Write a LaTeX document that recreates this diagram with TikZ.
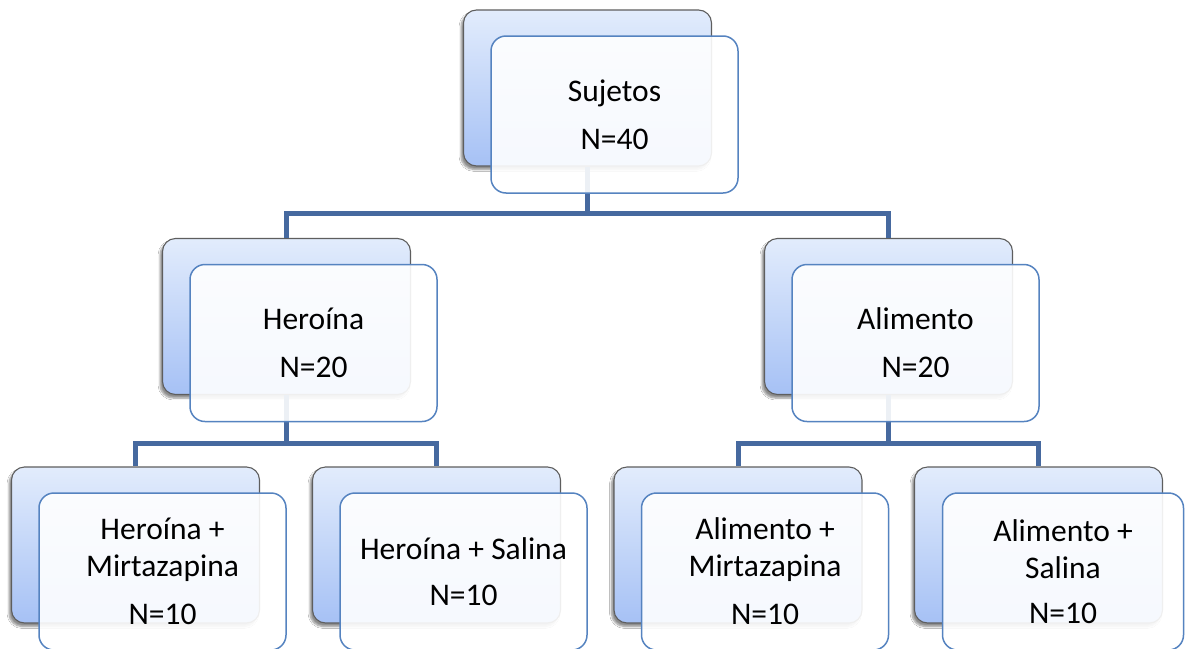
\documentclass[tikz,border=0pt]{standalone}
\usepackage{fontspec}
\setmainfont{Carlito}
\usetikzlibrary{shadows.blur}
\definecolor{backtop}{HTML}{E2ECFC}
\definecolor{backbot}{HTML}{A6C1F5}
\definecolor{backline}{HTML}{5E5E5E}
\definecolor{frontline}{HTML}{5583C0}
\definecolor{conn}{HTML}{46699F}
\tikzset{
  backbox/.style={rectangle, rounded corners=13pt, draw=backline, line width=1.1pt,
    top color=backtop, bottom color=backbot, minimum width=248pt, minimum height=156pt,
    inner sep=0pt,
    blur shadow={shadow xshift=-2.5pt, shadow yshift=-3.5pt, shadow blur steps=6, shadow opacity=45}},
  frontbox/.style={rectangle, rounded corners=15pt, draw=frontline, line width=1.5pt,
    fill=white, fill opacity=0.9, text opacity=1, minimum width=247pt, minimum height=157pt,
    inner sep=0pt, align=center},
  bigtext/.style={font=\fontsize{31.5}{48}\selectfont},
  smalltext/.style={font=\fontsize{31.5}{37}\selectfont},
  connector/.style={draw=conn, line width=5pt, line join=miter}
}
\begin{document}
\begin{tikzpicture}[x=1pt,y=-1pt]
\useasboundingbox (0,0) rectangle (1185,648);
\fill[white] (0,0) rectangle (1185,648);
% back boxes
\node[backbox] (topb) at (587.5,88) {};
\node[backbox] (herb) at (286.5,316.5) {};
\node[backbox] (alib) at (888.5,316.5) {};
\node[backbox] (hmb) at (135.5,545) {};
\node[backbox] (hsb) at (436.5,545) {};
\node[backbox] (amb) at (738,545) {};
\node[backbox] (asb) at (1038.5,545) {};
% junctions
\coordinate (j1) at (587.5,213);
\coordinate (j2) at (286.5,443);
\coordinate (j3) at (888.5,443);
% connectors
\draw[connector] (topb.south) -- (j1);
\draw[connector] (j1) -| (herb.north);
\draw[connector] (j1) -| (alib.north);
\draw[connector] (herb.south) -- (j2);
\draw[connector] (j2) -| (hmb.north);
\draw[connector] (j2) -| (hsb.north);
\draw[connector] (alib.south) -- (j3);
\draw[connector] (j3) -| (amb.north);
\draw[connector] (j3) -| (asb.north);
% front boxes
\node[frontbox, bigtext] (topf) at (614.5,114.5) {Sujetos\\N=40};
\node[frontbox, bigtext] (herf) at (313.5,343) {Heroína\\N=20};
\node[frontbox, bigtext] (alif) at (915.5,343) {Alimento\\N=20};
\node[frontbox, smalltext] (hmf) at (162.5,571.5) {Heroína +\\Mirtazapina\\[11pt]N=10};
\node[frontbox, smalltext] (hsf) at (463.5,571.5) {Heroína + Salina\\[9pt]N=10};
\node[frontbox, smalltext] (amf) at (765,571.5) {Alimento +\\Mirtazapina\\[11pt]N=10};
\node[frontbox, smalltext, minimum width=241pt] (asf) at (1063,571.5) {Alimento +\\Salina\\[8pt]N=10};
\end{tikzpicture}
\end{document}
